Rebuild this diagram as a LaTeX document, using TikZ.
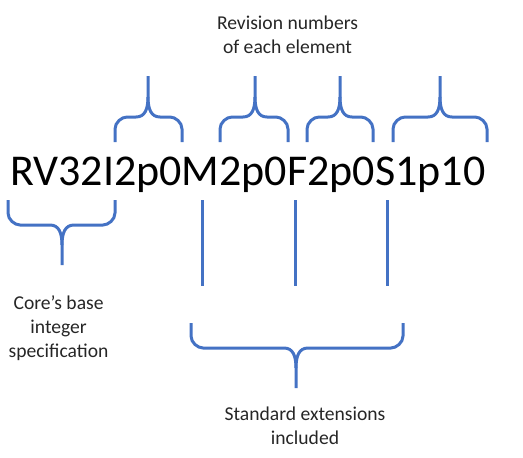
\documentclass[tikz,border=0pt]{standalone}
\usepackage{fontspec}
\setmainfont{Carlito}
\definecolor{bracecol}{HTML}{4472C4}
\newcommand{\upbrace}[6]{% x1 x2 xc ybottom yh ytip
  \draw[bracestyle] (#1,#4) -- (#1,#5+12) .. controls (#1,#5+5.4) and (#1+6.6,#5) .. (#1+12,#5) -- (#3-12,#5) .. controls (#3-3,#5) and (#3,#5-8) .. (#3,#5-20) -- (#3,#6);
  \draw[bracestyle] (#2,#4) -- (#2,#5+12) .. controls (#2,#5+5.4) and (#2-6.6,#5) .. (#2-12,#5) -- (#3+12,#5) .. controls (#3+3,#5) and (#3,#5-8) .. (#3,#5-20);
}
\newcommand{\downbrace}[6]{% x1 x2 xc ytop yh ytip
  \draw[bracestyle] (#1,#4) -- (#1,#5-12) .. controls (#1,#5-5.4) and (#1+6.6,#5) .. (#1+12,#5) -- (#3-12,#5) .. controls (#3-3,#5) and (#3,#5+8) .. (#3,#5+20) -- (#3,#6);
  \draw[bracestyle] (#2,#4) -- (#2,#5-12) .. controls (#2,#5-5.4) and (#2-6.6,#5) .. (#2-12,#5) -- (#3+12,#5) .. controls (#3+3,#5) and (#3,#5+8) .. (#3,#5+20);
}
\begin{document}
\begin{tikzpicture}[x=0.75pt,y=-0.75pt,
  bracestyle/.style={draw=bracecol,line width=2.25pt},
  bigtext/.style={font=\fontsize{33}{36}\selectfont,inner sep=0pt,anchor=base west},
  label/.style={font=\fontsize{14.7}{18}\selectfont,align=center,inner sep=0pt,anchor=base,text=black!85}]
\useasboundingbox (0,0) rectangle (523,457);
\node[bigtext] (code) at (10,185) {RV32I2p0M2p0F2p0S1p10};
\upbrace{115}{182}{148}{142}{117}{76}
\upbrace{220}{288}{255}{142}{117}{76}
\upbrace{307}{373}{340}{142}{117}{76}
\upbrace{393}{487}{440}{142}{117}{76}
\downbrace{8}{115}{62}{200}{225}{265}
\downbrace{191}{403}{296}{323}{348}{388}
\draw[bracestyle] (202,200) -- (202,286);
\draw[bracestyle] (295,200) -- (295,286);
\draw[bracestyle] (387,200) -- (387,286);
\node[label] (rev) at (287.5,53) {Revision numbers\\of each element};
\node[label] (core) at (58.6,357) {Core’s base\\integer\\specification};
\node[label] (std) at (305,444) {Standard extensions\\included};
\end{tikzpicture}
\end{document}
